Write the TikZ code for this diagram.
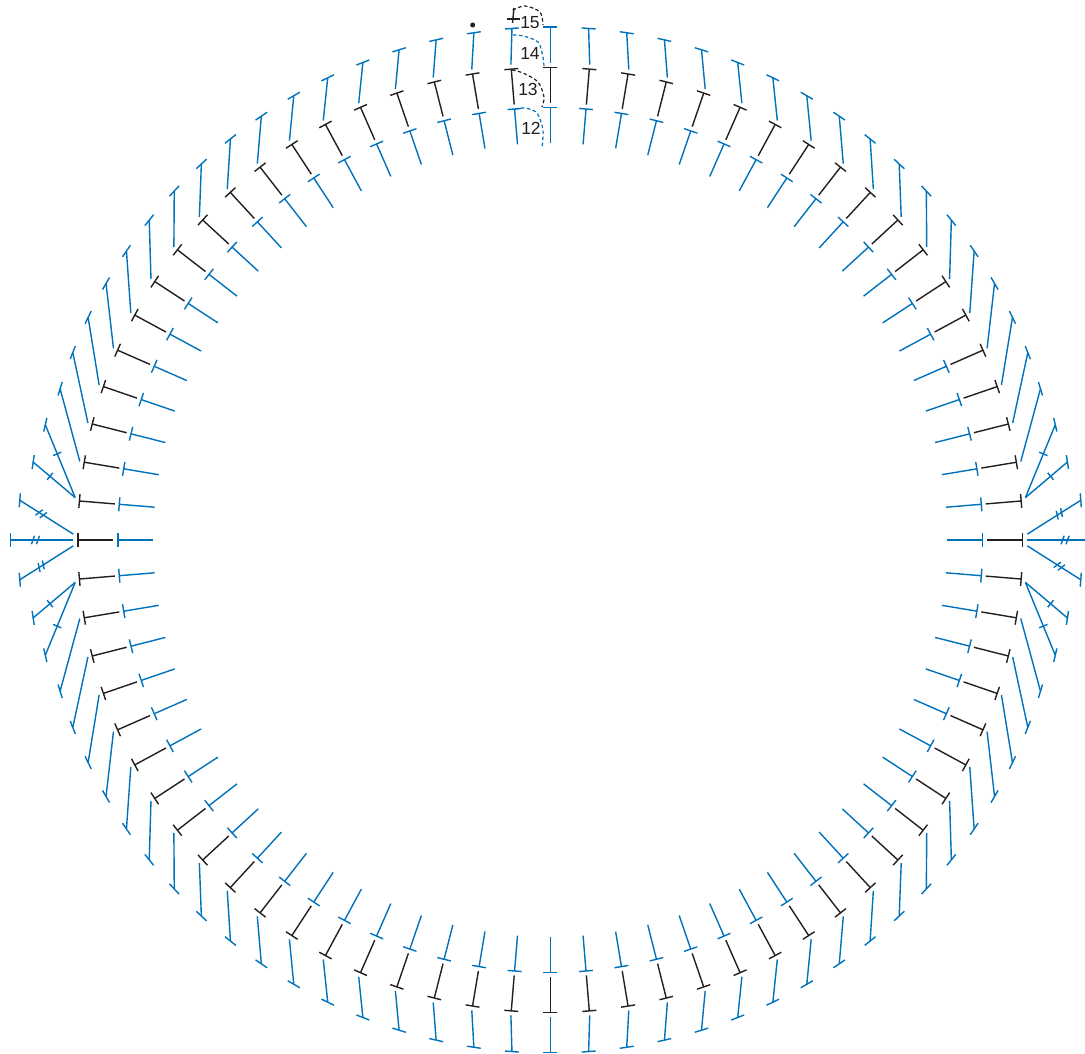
\documentclass[tikz,border=0pt]{standalone}
\usepackage{fontspec}
\setmainfont{Liberation Sans}
\usepackage{xcolor}
\usetikzlibrary{calc}
\definecolor{stitchblue}{RGB}{0,114,188}
\definecolor{stitchblack}{RGB}{35,31,32}
\tikzset{
    bluestem/.style={line width=1.4pt, stitchblue},
    blackstem/.style={line width=1.4pt, stitchblack},
    bluearc/.style={line width=1.2pt, stitchblue, dash pattern=on 3.5pt off 2.5pt},
    blackarc/.style={line width=1.2pt, stitchblack, dash pattern=on 3.5pt off 2.5pt},
    roundlabel/.style={inner sep=0pt, text=stitchblack, font=\fontsize{17.5}{19}\selectfont}
}
% stem with a bar across its outer end: style, start angle, start radius, end angle, end radius
\newcommand{\stitch}[5]{
    \draw[#1] (#2:#3) -- (#4:#5);
    \draw[#1] ([shift={(#4:#5)}]#4+90:7) -- ([shift={(#4:#5)}]#4-90:7);
}
\begin{document}
\begin{tikzpicture}[x=1pt, y=1pt]
        % Frame of the picture, centre of the ring at the origin
        \clip (-550.3, -513) rectangle (534.7, 540);

        % Inner two rounds, 76 stitches
        \foreach \j in {0,...,75} {
            \pgfmathsetmacro{\a}{90+360/76*\j}
            \stitch{bluestem}{\a}{397}{\a}{432.5}
            \stitch{blackstem}{\a}{437}{\a}{472.5}
        }

        % Outer round, 84 stitches: top and bottom once
        \stitch{bluestem}{90}{477}{90}{513}
        \stitch{bluestem}{270}{477}{270}{512.5}

        % Outer round, both sides of the top
        \foreach \s in {1,-1} {
            % Stitches of the top half
            \foreach \k in {1,...,17} {
                \pgfmathsetmacro{\a}{90+360/76*\s*\k}
                \pgfmathsetmacro{\t}{90+360/84*\s*\k}
                \stitch{bluestem}{\a}{477}{\t}{513}
            }
            % Stitches of the lower half
            \foreach \k in {25,...,41} {
                \pgfmathsetmacro{\a}{90+360/76*\s*(\k-4)}
                \pgfmathsetmacro{\t}{90+360/84*\s*\k}
                \stitch{bluestem}{\a}{477}{\t}{513}
            }
            % Fans with one tick
            \foreach \k/\f/\r in {18/84.9/518, 19/84.9/523, 23/95.1/523, 24/95.1/518} {
                \pgfmathsetmacro{\a}{90+\s*\f}
                \pgfmathsetmacro{\t}{90+360/84*\s*\k}
                \stitch{bluestem}{\a}{477}{\t}{\r}
                \coordinate (hs) at (\a:477);
                \coordinate (he) at (\t:\r);
                \coordinate (hm) at ($(hs)!0.6!(he)$);
                \draw[bluestem] ($(hm)!4.5pt!90:(he)$) -- ($(hm)!4.5pt!-90:(he)$);
            }
            % Fans with two ticks
            \foreach \k/\f/\r in {20/89.3/532, 21/90/540, 22/90.7/532} {
                \pgfmathsetmacro{\a}{90+\s*\f}
                \pgfmathsetmacro{\t}{90+360/84*\s*\k}
                \stitch{bluestem}{\a}{477}{\t}{\r}
                \coordinate (hs) at (\a:477);
                \coordinate (he) at (\t:\r);
                \coordinate (hm) at ($(hs)!0.6!(he)$);
                \foreach \d in {-2.5pt,2.5pt} {
                    \coordinate (hd) at ($(hm)!\d!(he)$);
                    \draw[bluestem] ($(hd)!4.5pt!70:(he)$) -- ($(hd)!4.5pt!-110:(he)$);
                }
            }
        }

        % Dashed joins at the end of each round
        \draw[bluearc] plot[smooth] coordinates {(-35.3,431) (-25.3,432) (-13.3,427) (-7.3,410) (-8.3,393)};
        \draw[blackarc] plot[smooth] coordinates {(-38.3,470) (-27.3,467) (-12.3,458) (-6.3,443) (-8.3,433)};
        \draw[bluearc] plot[smooth] coordinates {(-37.3,505) (-27.3,504) (-12.3,498) (-7.3,483) (-6.3,473)};
        \draw[blackarc] plot[smooth] coordinates {(-37.6,530) (-25.3,534) (-10.3,528) (-7.3,515)};

        % Last mark and starting dot
        \draw[blackstem] (-36.3, 532) -- (-37.8, 517);
        \draw[blackstem] (-43.3, 521) -- (-30.3, 521);
        \fill[stitchblack] (-77.6, 515) circle (2.5pt);

        % Label rounds
        \node[roundlabel] (round12) at (-19.3, 412) {12};
        \node[roundlabel] (round13) at (-22.3, 451) {13};
        \node[roundlabel] (round14) at (-20.3, 487) {14};
        \node[roundlabel] (round15) at (-20.3, 517) {15};
\end{tikzpicture}
\end{document}
